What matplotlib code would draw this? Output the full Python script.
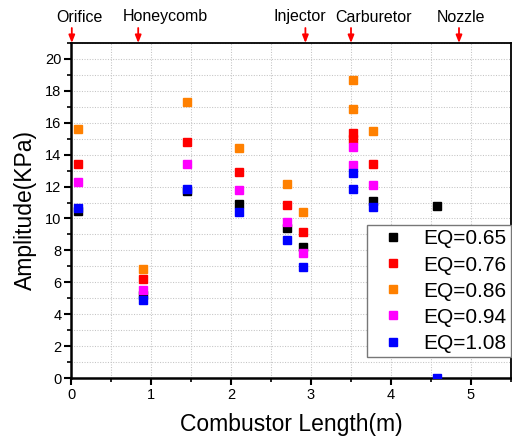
import matplotlib
matplotlib.use("Agg")
import matplotlib.pyplot as plt
from matplotlib.ticker import MultipleLocator

plt.rcParams['font.family'] = ['Liberation Sans', 'DejaVu Sans']

# ---- data ----
labels = ["EQ=0.65", "EQ=0.76", "EQ=0.86", "EQ=0.94", "EQ=1.08"]
colors = ["#000000", "#ff0000", "#ff8000", "#ff00ff", "#0000ff"]

x_065 = [0.09, 0.90, 1.45, 2.10, 2.70, 2.90, 3.78, 4.58]
y_065 = [10.50, 5.20, 11.70, 10.92, 9.39, 8.23, 11.12, 10.78]

x_076 = [0.09, 0.90, 1.45, 2.10, 2.70, 2.90, 3.53, 3.53, 3.78]
y_076 = [13.42, 6.23, 14.82, 12.90, 10.87, 9.16, 15.34, 14.96, 13.44]

x_086 = [0.09, 0.90, 1.45, 2.10, 2.70, 2.90, 3.53, 3.53, 3.78]
y_086 = [15.63, 6.81, 17.32, 14.43, 12.14, 10.43, 18.68, 16.88, 15.49]

x_094 = [0.09, 0.90, 1.45, 2.10, 2.70, 2.90, 3.53, 3.53, 3.78]
y_094 = [12.29, 5.54, 13.42, 11.79, 9.75, 7.86, 14.46, 13.35, 12.11]

x_108 = [0.09, 0.90, 1.45, 2.10, 2.70, 2.90, 3.53, 3.53, 3.78, 4.58]
y_108 = [10.64, 4.89, 11.83, 10.41, 8.64, 6.94, 12.83, 11.83, 10.73, 0.00]

component_names = ["Orifice", "Honeycomb", "Injector", "Carburetor", "Nozzle"]
component_pos = [0.01, 0.84, 2.93, 3.50, 4.85]

xs = [x_065, x_076, x_086, x_094, x_108]
ys = [y_065, y_076, y_086, y_094, y_108]

fig = plt.figure(figsize=(5.12, 4.41), dpi=100)
ax = fig.add_axes([71/512, 63/441, 440/512, 335/441])

for x, y, c, lab in zip(xs, ys, colors, labels):
    ax.plot(x, y, linestyle='none', marker='s', markersize=6.3,
            color=c, markeredgecolor=c, label=lab, zorder=3)

ax.set_xlim(0, 5.5)
ax.set_ylim(0, 21)
ax.xaxis.set_major_locator(MultipleLocator(1))
ax.xaxis.set_minor_locator(MultipleLocator(0.5))
ax.yaxis.set_major_locator(MultipleLocator(2))
ax.yaxis.set_minor_locator(MultipleLocator(1))
ax.set_yticks(range(0, 21, 2))

ax.grid(True, which='both', linestyle=(0, (1, 1.5)), color='#c4c4c4', linewidth=0.75, zorder=0)
ax.set_axisbelow(True)

ax.tick_params(axis='both', which='major', direction='out', length=5, width=1.5,
               labelsize=10.5, top=False, right=False, pad=2)
ax.tick_params(axis='both', which='minor', direction='out', length=3, width=1.2,
               top=False, right=False)
for s in ['left', 'bottom']:
    ax.spines[s].set_linewidth(1.8)
for s in ['top', 'right']:
    ax.spines[s].set_linewidth(1.3)

ax.set_xlabel("Combustor Length(m)", fontsize=16.5, labelpad=8)
ax.set_ylabel("Amplitude(KPa)", fontsize=16.5, labelpad=6)

leg = ax.legend(loc='upper left', bbox_to_anchor=(0.673, 0.457), fontsize=15,
                frameon=True, fancybox=False, edgecolor='#777777', framealpha=1,
                handlelength=2.06, handletextpad=0.41, labelspacing=0.34,
                borderpad=0.22, borderaxespad=0, markerscale=1.0)
leg.get_frame().set_linewidth(1.0)

# component markers above the top axis
for name, pos in zip(component_names, component_pos):
    ax.annotate('', xy=(pos, 1.0), xycoords=('data', 'axes fraction'),
                xytext=(pos, 1.0 + 15/335), textcoords=('data', 'axes fraction'),
                arrowprops=dict(arrowstyle='-|>,head_width=0.18,head_length=0.45',
                                color='red', lw=1.3, shrinkA=0, shrinkB=0),
                annotation_clip=False)

label_px = [79, 165, 300, 374, 461]
for name, px in zip(component_names, label_px):
    fig.text(px/512, 1 - 17/441, name, ha='center', va='center', fontsize=11.5)

fig.savefig("out.png", dpi=100)
